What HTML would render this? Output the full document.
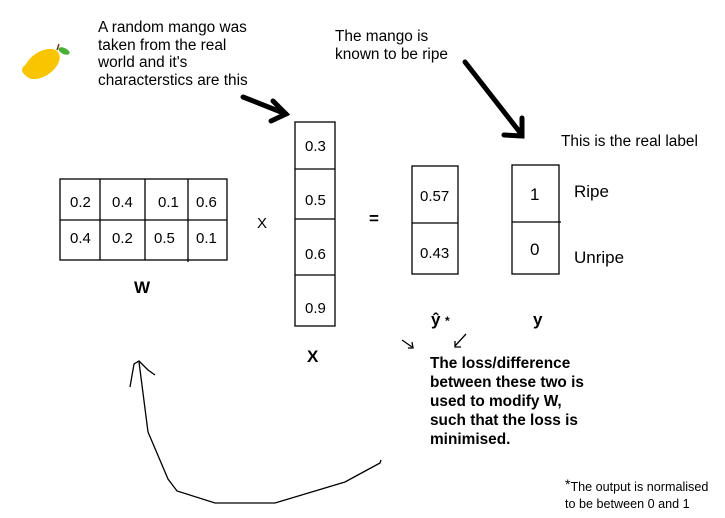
<!DOCTYPE html>
<html><head><style>
body{margin:0;background:#fff;width:725px;height:518px;overflow:hidden}
svg{display:block}
text{font-family:"Liberation Sans",sans-serif;fill:#000}
</style></head><body>
<svg width="725" height="518" viewBox="0 0 725 518" xmlns="http://www.w3.org/2000/svg">
<!-- mango -->
<ellipse cx="42" cy="64" rx="20" ry="12" transform="rotate(-35 42 64)" fill="#f9c400"/>
<ellipse cx="36" cy="70" rx="14" ry="8" fill="#f9c400"/>
<ellipse cx="64" cy="51" rx="6" ry="3" transform="rotate(25 64 51)" fill="#4caf35"/>
<line x1="57" y1="50" x2="59" y2="44" stroke="#6b3a1a" stroke-width="1.5"/>
<g font-size="15.4">
<text x="98" y="32">A random mango was</text>
<text x="98" y="50">taken from the real</text>
<text x="98" y="67">world and it's</text>
<text x="98" y="85">characterstics are this</text>
<text x="335" y="41">The mango is</text>
<text x="335" y="59">known to be ripe</text>
<text x="561" y="146">This is the real label</text>
</g>
<g stroke="#000" stroke-width="5" fill="none" stroke-linecap="round">
<path d="M243 97 L286 114"/><path d="M273 101 L286 114 L271 121"/>
<path d="M465 62 L522 135"/><path d="M522 118 L522 136 L504 135"/>
</g>
<g stroke="#000" stroke-width="1.3" fill="none">
<rect x="60" y="179" width="167" height="81"/>
<line x1="60" y1="220" x2="227" y2="220"/>
<line x1="100" y1="179" x2="100" y2="260"/><line x1="145" y1="179" x2="145" y2="260"/><line x1="188" y1="179" x2="188" y2="262"/>
<rect x="295" y="122" width="40" height="204"/>
<line x1="295" y1="169" x2="335" y2="169"/><line x1="295" y1="219" x2="335" y2="219"/><line x1="295" y1="275" x2="335" y2="275"/>
<rect x="412" y="166" width="46" height="108"/><line x1="412" y1="223" x2="458" y2="223"/>
<rect x="512" y="165" width="47" height="109"/><line x1="512" y1="222" x2="561" y2="222"/>
</g>
<g font-size="15">
<text x="70" y="207">0.2</text><text x="112" y="207">0.4</text><text x="158" y="207">0.1</text><text x="196" y="207">0.6</text>
<text x="70" y="243">0.4</text><text x="112" y="243">0.2</text><text x="154" y="243">0.5</text><text x="196" y="243">0.1</text>
<text x="305" y="151">0.3</text><text x="305" y="205">0.5</text><text x="305" y="259">0.6</text><text x="305" y="313">0.9</text>
<text x="420" y="201">0.57</text><text x="420" y="258">0.43</text>
<text x="257" y="228">X</text>
</g>
<g font-size="17">
<text x="530" y="200">1</text><text x="530" y="255">0</text>
<text x="574" y="197">Ripe</text><text x="574" y="263">Unripe</text>
<text x="369" y="224" font-weight="bold">=</text>
</g>
<g font-size="17" font-weight="bold">
<text x="134" y="293">W</text><text x="307" y="362">X</text>
<text x="431" y="325">ŷ</text><text x="533" y="325">y</text>
</g>
<text x="445" y="325" font-size="12" font-weight="bold">*</text>
<g stroke="#000" stroke-width="1.3" fill="none">
<path d="M402 340 L412 347"/><path d="M412 342 L413 348 L408 348"/>
<path d="M466 334 L455 346"/><path d="M455 341 L455 347 L461 347"/>
<path d="M381 460 L380 463 L345 482 L275 503 L215 503 L177 491 L168 479 L148 432 L139 362"/>
<path d="M130 387 L134 364 L139 361 L148 370 L155 375"/>
</g>
<g font-size="15.4" font-weight="bold">
<text x="430" y="368">The loss/difference</text>
<text x="430" y="387">between these two is</text>
<text x="430" y="406">used to modify W,</text>
<text x="430" y="425">such that the loss is</text>
<text x="430" y="444">minimised.</text>
</g>
<g font-size="12.6">
<text x="565" y="491"><tspan font-size="14" dy="-2">*</tspan><tspan dy="2">The output is normalised</tspan></text>
<text x="565" y="508">to be between 0 and 1</text>
</g>
</svg>
</body></html>
